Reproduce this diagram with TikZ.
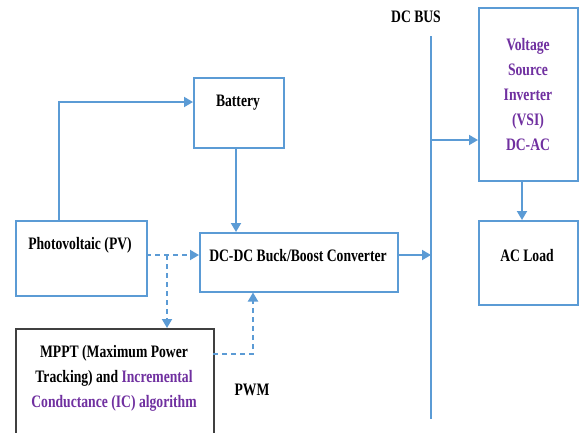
\documentclass[tikz,border=0pt]{standalone}
\usepackage{fontspec}
\setmainfont{Liberation Serif}[FakeStretch=0.78]
\usetikzlibrary{arrows.meta,calc}
\definecolor{lineblue}{HTML}{5B9BD5}
\definecolor{txtpurple}{HTML}{7030A0}
\definecolor{mpptgray}{HTML}{404040}
\begin{document}
\begin{tikzpicture}[x=1pt,y=-1pt,
  box/.style={draw=lineblue, line width=1.5pt, inner sep=0pt, anchor=north west},
  lbl/.style={font=\fontsize{17.5}{25}\selectfont\bfseries, align=center, inner sep=0pt},
  conn/.style={draw=lineblue, line width=1.8pt, -{Triangle[length=9pt,width=10pt]}},
  dconn/.style={conn, dash pattern=on 5pt off 4pt},
]
\clip (0,0) rectangle (579,432);
\fill[white] (0,0) rectangle (579,432);

% boxes
\node[box, minimum width=90pt, minimum height=70pt] (bat) at (193,77) {};
\node[box, minimum width=131pt, minimum height=75pt] (pv) at (15,220) {};
\node[box, minimum width=198pt, minimum height=59pt] (dc) at (199,232) {};
\node[box, draw=mpptgray, minimum width=198pt, minimum height=120pt] (mppt) at (15,328) {};
\node[box, minimum width=99pt, minimum height=173pt] (vsi) at (478,7) {};
\node[box, minimum width=99pt, minimum height=84pt] (acl) at (478,220) {};

% labels
\node[lbl, anchor=mid] (batT) at (238,104) {Battery};
\node[lbl, anchor=mid] (pvT) at (80,247) {Photovoltaic (PV)};
\node[lbl, anchor=mid] (dcT) at (298,259) {DC-DC Buck/Boost Converter};
\node[lbl, anchor=mid] (aclT) at (527,259) {AC Load};
\node[lbl, anchor=mid] (busT) at (416,20) {DC BUS};
\node[lbl, anchor=mid] (pwmT) at (252,393) {PWM};
\node[lbl, text=txtpurple] (vsiT) at (528,95) {Voltage\\Source\\Inverter\\(VSI)\\DC-AC};
\node[lbl] (mpptT) at (114,378) {MPPT (Maximum Power\\Tracking) and \textcolor{txtpurple}{Incremental}\\\textcolor{txtpurple}{Conductance (IC) algorithm}};

% DC bus
\coordinate (busTop) at (431,36);
\coordinate (busBot) at (431,419);
\draw[draw=lineblue, line width=1.5pt] (busTop) -- (busBot);

% connectors
\coordinate (pvUp) at (59,220);
\coordinate (batIn) at (193,102);
\draw[conn] (pvUp) |- (batIn);
\draw[conn] (bat.south -| 236,0) -- (dc.north -| 236,0);

\coordinate (pvOut) at (146,255);
\coordinate (dcIn) at (199,255);
\coordinate (br) at (167,255);
\draw[dconn] (pvOut) -- (dcIn);
\draw[dconn] (br) -- (br |- mppt.north);

\coordinate (mpOut) at (213,354);
\coordinate (pwmUp) at (253,354);
\draw[dconn] (mpOut) -- (pwmUp) -- (pwmUp |- dc.south);

\coordinate (dcOut) at (397,255);
\draw[conn] (dcOut) -- (dcOut -| busTop);
\coordinate (busV) at (431,140);
\draw[conn] (busV) -- (busV -| vsi.west);
\draw[conn] (vsi.south -| 522,0) -- (acl.north -| 522,0);
\end{tikzpicture}
\end{document}
